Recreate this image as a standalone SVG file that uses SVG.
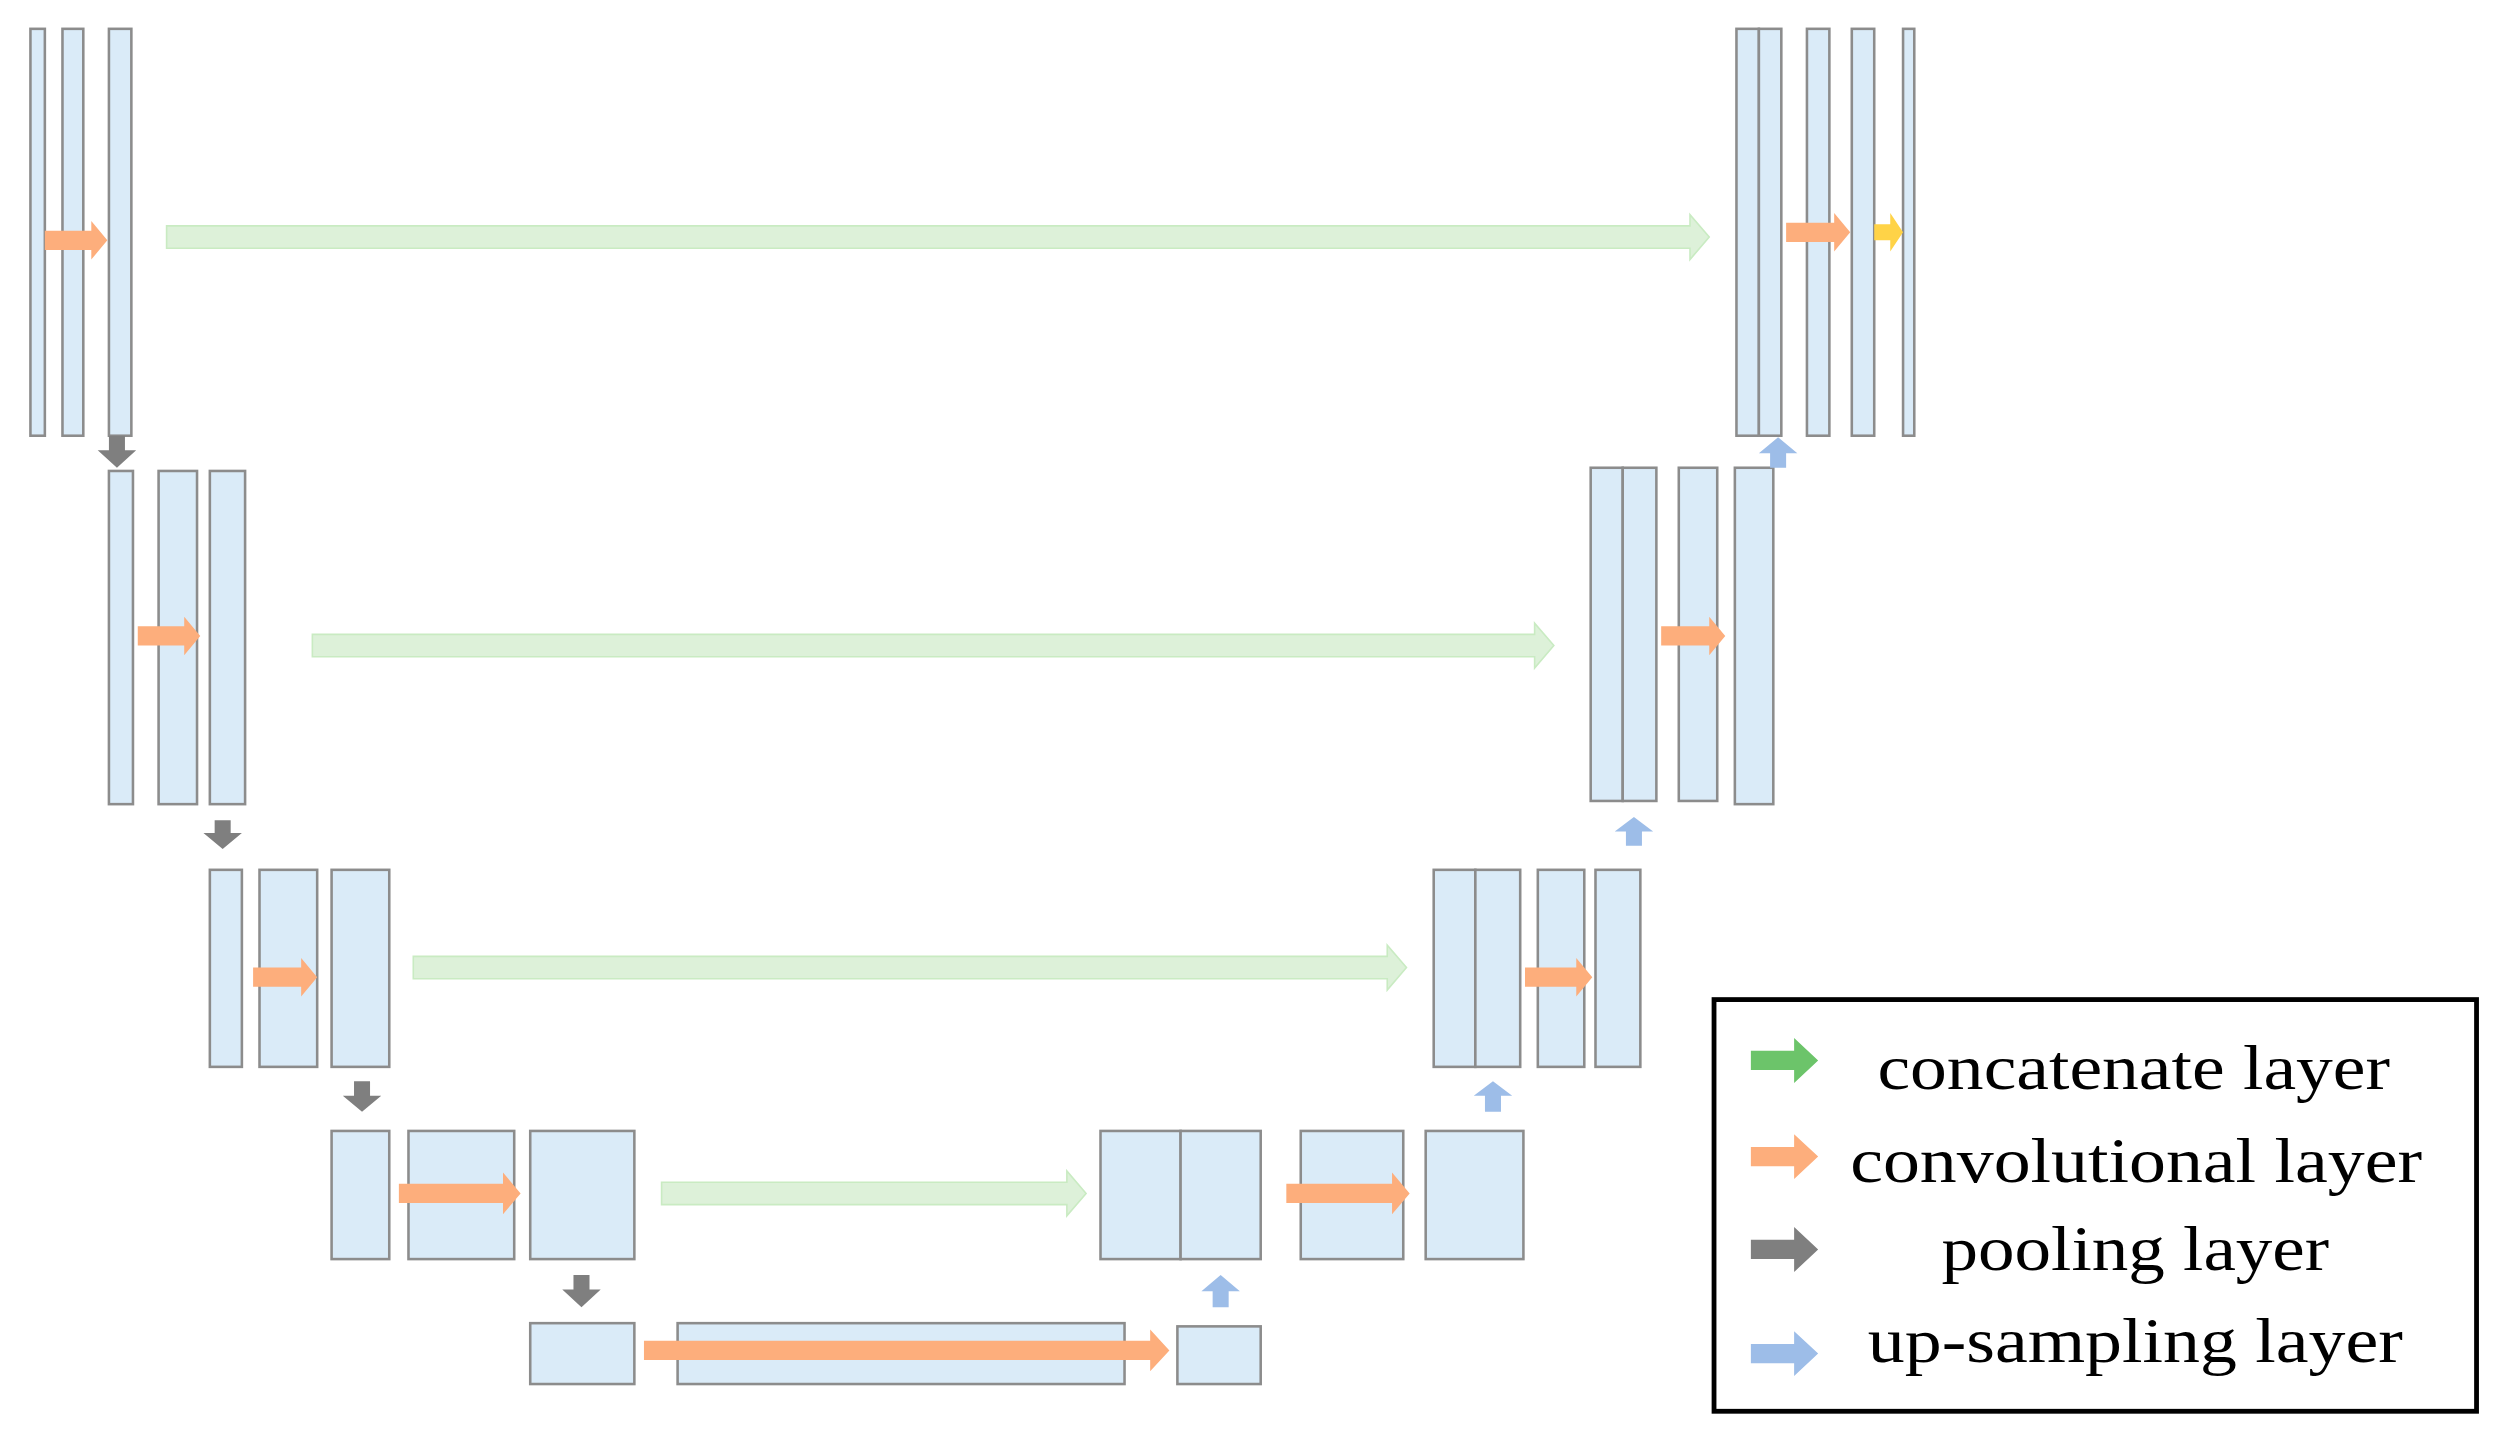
<svg xmlns="http://www.w3.org/2000/svg" width="2499" height="1433" viewBox="0 0 2499 1433">
<style>
.b{fill:#DAEBF8;stroke:#8C8C8C;stroke-width:1.6}
.o{fill:#FDAE7C}
.g{fill:#DDF1D9;stroke:#C9EBC2;stroke-width:1}
.p{fill:#7F7F7F}
.u{fill:#9DBDE8}
.y{fill:#FFD347}
.t{font-family:"Liberation Serif",serif;font-size:40px;fill:#000}
</style>
<rect width="2499" height="1433" fill="#fff"/>
<g transform="scale(1.6019)">
<g id="row1">
<rect class="b" x="19" y="18" width="9" height="254"/>
<rect class="b" x="39" y="18" width="13" height="254"/>
<rect class="b" x="68" y="18" width="14" height="254"/>
<rect class="b" x="1084" y="18" width="14" height="254"/>
<rect class="b" x="1098" y="18" width="14" height="254"/>
<rect class="b" x="1128" y="18" width="14" height="254"/>
<rect class="b" x="1156" y="18" width="14" height="254"/>
<rect class="b" x="1188" y="18" width="7" height="254"/>
</g>
<g id="row2">
<rect class="b" x="68" y="294" width="15" height="208"/>
<rect class="b" x="99" y="294" width="24" height="208"/>
<rect class="b" x="131" y="294" width="22" height="208"/>
<rect class="b" x="993" y="292" width="20" height="208"/>
<rect class="b" x="1013" y="292" width="21" height="208"/>
<rect class="b" x="1048" y="292" width="24" height="208"/>
<rect class="b" x="1083" y="292" width="24" height="210"/>
</g>
<g id="row3">
<rect class="b" x="131" y="543" width="20" height="123"/>
<rect class="b" x="162" y="543" width="36" height="123"/>
<rect class="b" x="207" y="543" width="36" height="123"/>
<rect class="b" x="895" y="543" width="26" height="123"/>
<rect class="b" x="921" y="543" width="28" height="123"/>
<rect class="b" x="960" y="543" width="29" height="123"/>
<rect class="b" x="996" y="543" width="28" height="123"/>
</g>
<g id="row4">
<rect class="b" x="207" y="706" width="36" height="80"/>
<rect class="b" x="255" y="706" width="66" height="80"/>
<rect class="b" x="331" y="706" width="65" height="80"/>
<rect class="b" x="687" y="706" width="50" height="80"/>
<rect class="b" x="737" y="706" width="50" height="80"/>
<rect class="b" x="812" y="706" width="64" height="80"/>
<rect class="b" x="890" y="706" width="61" height="80"/>
</g>
<g id="row5">
<rect class="b" x="331" y="826" width="65" height="38"/>
<rect class="b" x="423" y="826" width="279" height="38"/>
<rect class="b" x="735" y="828" width="52" height="36"/>
</g>
<g id="connectors">
<!-- orange conv -->
<polygon class="o" points="28,144 57,144 57,138 67,150 57,162 57,156 28,156"/>
<polygon class="o" points="86,391 115,391 115,385 125,397 115,409 115,403 86,403"/>
<polygon class="o" points="158,604 188,604 188,598 198,610 188,622 188,616 158,616"/>
<polygon class="o" points="249,739 314,739 314,732 325,745 314,758 314,751 249,751"/>
<polygon class="o" points="402,837 718,837 718,830 730,843 718,856 718,849 402,849"/>
<polygon class="o" points="803,739 869,739 869,732 880,745 869,758 869,751 803,751"/>
<polygon class="o" points="952,604 984,604 984,598 994,610 984,622 984,616 952,616"/>
<polygon class="o" points="1037,391 1067,391 1067,385 1077,397 1067,409 1067,403 1037,403"/>
<polygon class="o" points="1115,139 1145,139 1145,133 1155,145 1145,157 1145,151 1115,151"/>
<polygon class="y" points="1170,140 1180,140 1180,133 1188,145 1180,157 1180,150 1170,150"/>
<!-- green concat -->
<polygon class="g" points="104,141 1055,141 1055,134 1067,148 1055,162 1055,155 104,155"/>
<polygon class="g" points="195,396 958,396 958,389 970,403 958,417 958,410 195,410"/>
<polygon class="g" points="258,597 866,597 866,590 878,604 866,618 866,611 258,611"/>
<polygon class="g" points="413,738 666,738 666,731 678,745 666,759 666,752 413,752"/>
<!-- gray pooling -->
<polygon class="p" points="68,272 78,272 78,281 85,281 73,292 61,281 68,281"/>
<polygon class="p" points="134,512 144,512 144,520 151,520 139,530 127,520 134,520"/>
<polygon class="p" points="221,675 231,675 231,684 238,684 226,694 214,684 221,684"/>
<polygon class="p" points="358,796 368,796 368,805 375,805 363,816 351,805 358,805"/>
<!-- blue up-sampling -->
<polygon class="u" points="757,816 767,816 767,806 774,806 762,796 750,806 757,806"/>
<polygon class="u" points="927,694 937,694 937,684 944,684 932,675 920,684 927,684"/>
<polygon class="u" points="1015,528 1025,528 1025,519 1032,519 1020,510 1008,519 1015,519"/>
<polygon class="u" points="1105,292 1115,292 1115,283 1122,283 1110,273 1098,283 1105,283"/>
</g>
<g id="legend">
<rect x="1070" y="624" width="476" height="257" fill="#fff" stroke="#000" stroke-width="3"/>
<polygon fill="#6CC46A" points="1093,656 1120,656 1120,648 1135,662 1120,676 1120,668 1093,668"/>
<polygon class="o" points="1093,716 1120,716 1120,708 1135,722 1120,736 1120,728 1093,728"/>
<polygon class="p" points="1093,774 1120,774 1120,766 1135,780 1120,794 1120,786 1093,786"/>
<polygon class="u" points="1093,839 1120,839 1120,831 1135,845 1120,859 1120,851 1093,851"/>
<text class="t" x="1172" y="680" textLength="320" lengthAdjust="spacingAndGlyphs">concatenate layer</text>
<text class="t" x="1155" y="738" textLength="357" lengthAdjust="spacingAndGlyphs">convolutional  layer</text>
<text class="t" x="1212" y="793" textLength="242" lengthAdjust="spacingAndGlyphs">pooling layer</text>
<text class="t" x="1166" y="850" textLength="334" lengthAdjust="spacingAndGlyphs">up-sampling layer</text>
</g>
</g>
</svg>
